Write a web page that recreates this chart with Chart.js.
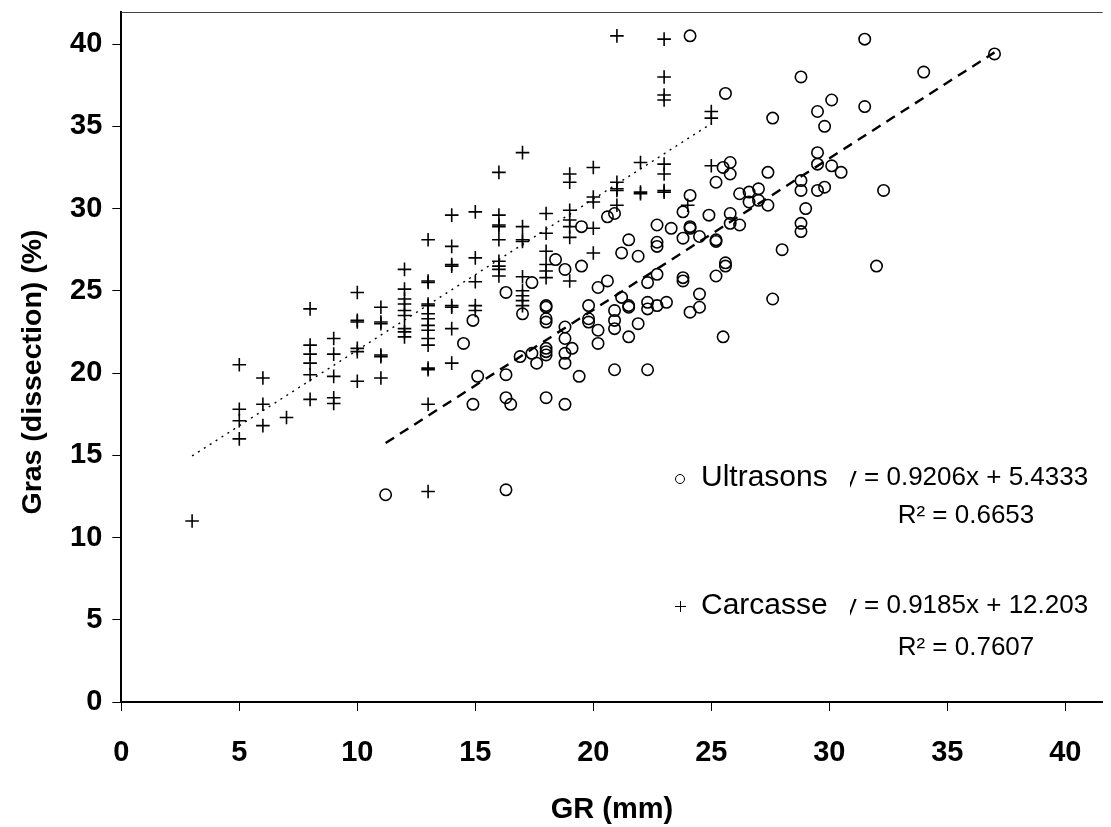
<!DOCTYPE html>
<html>
<head>
<meta charset="utf-8">
<script src="https://cdn.jsdelivr.net/npm/chart.js@4.4.0/dist/chart.umd.min.js"></script>
<style>
  html, body { margin: 0; padding: 0; background: #fff; overflow: hidden; }
  #wrap { width: 1111px; height: 827px; }
</style>
</head>
<body>
<div id="wrap"><canvas id="graph" width="1111" height="827"></canvas></div>
<script>
// Ultrasons : GR (mm) / gras de dissection (%)
const ultrasonsGR = [
  11.2, 16.3, 14.9, 16.3, 16.5, 18.0, 18.8, 15.1, 16.3, 19.4,
  17.6, 16.9, 17.4, 18.0, 18.0, 18.0, 18.8, 18.8, 19.1, 18.8,
  18.8, 14.5, 14.9, 17.0, 16.3, 17.4, 18.0, 18.0, 18.0, 18.0,
  18.4, 18.8, 19.5, 19.8, 19.8, 19.8, 20.2, 20.6, 20.2, 20.2,
  20.9, 20.9, 20.9, 20.9, 21.2, 21.5, 21.5, 21.9, 21.5, 22.3,
  22.7, 22.3, 22.3, 22.7, 23.1, 22.3, 21.2, 21.9, 21.5, 22.7,
  22.7, 19.5, 20.6, 20.9, 22.7, 23.3, 23.8, 24.1, 24.1, 23.8,
  24.5, 25.2, 25.2, 24.9, 24.1, 25.2, 25.5, 25.8, 25.8, 25.8,
  25.8, 26.2, 26.2, 26.6, 27.0, 27.0, 26.6, 27.4, 27.4, 28.8,
  28.8, 29.5, 29.8, 29.0, 28.8, 28.8, 28.0, 29.5, 29.5, 30.1,
  30.5, 32.3, 27.6, 29.8, 29.5, 30.1, 31.5, 25.6, 28.8, 34.0,
  37.0, 24.1, 31.5, 32.0, 25.6, 25.6, 25.2, 23.8, 23.8, 24.5,
  27.6, 24.5, 24.1, 25.5
];
const ultrasonsGras = [
  12.6, 12.9, 18.1, 18.5, 18.1, 18.5, 18.1, 19.8, 19.9, 19.8,
  20.6, 21.0, 21.2, 21.1, 21.3, 21.5, 20.6, 21.2, 21.5, 22.1,
  22.8, 21.8, 23.2, 23.6, 24.9, 25.5, 23.1, 23.3, 24.0, 24.1,
  26.9, 26.3, 26.5, 24.1, 23.3, 23.1, 25.2, 25.6, 22.6, 21.8,
  23.8, 23.2, 22.7, 20.2, 24.6, 24.1, 24.0, 23.0, 22.2, 25.5,
  26.0, 24.3, 23.9, 24.1, 24.3, 20.2, 27.3, 27.1, 28.1, 27.95,
  27.7, 28.9, 29.5, 29.7, 29.0, 28.8, 29.8, 28.9, 28.8, 28.2,
  28.3, 28.1, 28.0, 29.6, 30.8, 31.6, 32.5, 32.8, 32.1, 29.7,
  29.1, 29.0, 30.9, 31.0, 31.2, 30.5, 30.4, 30.2, 32.2, 31.7,
  31.1, 31.1, 31.3, 30.0, 29.1, 28.6, 27.5, 33.4, 32.7, 32.6,
  32.2, 31.1, 35.5, 35.0, 35.9, 36.6, 36.2, 37.0, 38.0, 38.3,
  39.4, 40.5, 40.3, 26.5, 26.7, 26.5, 25.9, 25.8, 25.6, 24.8,
  24.5, 24.0, 23.7, 22.2
];

// Carcasse : GR (mm) / gras de dissection (%)
const carcasseGR = [
  3,
  5, 5, 5, 5,
  6, 6, 6,
  7,
  8, 8, 8, 8, 8, 8,
  9, 9, 9, 9, 9,
  10, 10, 10, 10, 10, 10,
  11, 11, 11, 11, 11, 11,
  12, 12, 12, 12, 12, 12, 12, 12, 12,
  13, 13, 13, 13, 13, 13, 13, 13, 13, 13, 13, 13, 13, 13, 13,
  14, 14, 14, 14, 14, 14, 14, 14,
  15, 15, 15, 15, 15,
  16, 16, 16, 16, 16, 16, 16, 16, 16,
  17, 17, 17, 17, 17, 17, 17, 17, 17,
  18, 18, 18, 18, 18, 18,
  19, 19, 19, 19, 19, 19, 19,
  20, 20, 20, 20, 20,
  21, 21, 21, 21, 21,
  22, 22, 22,
  23, 23, 23, 23, 23, 23, 23, 23,
  24,
  25, 25, 25
];
const carcasseGras = [
  11.0,
  20.5, 17.8, 17.1, 16.0,
  19.7, 18.1, 16.8,
  17.3,
  23.9, 21.7, 21.15, 20.6, 19.9, 18.4,
  22.1, 21.15, 19.8, 18.5, 18.15,
  24.9, 23.2, 23.1, 21.5, 21.3, 19.5,
  24.0, 23.1, 23.0, 21.1, 21.0, 19.7,
  26.3, 25.1, 24.5, 24.2, 23.8, 23.5, 22.7, 22.5, 22.2,
  28.1, 25.6, 25.5, 24.2, 24.1, 23.6, 23.3, 22.9, 22.6, 22.1, 21.7, 20.3, 20.2, 18.1, 12.8,
  29.6, 27.7, 26.6, 26.5, 24.1, 24.0, 22.7, 20.6,
  29.8, 27.0, 25.55, 24.1, 23.8,
  32.2, 29.6, 29.0, 28.9, 28.1, 26.8, 26.5, 26.3, 25.9,
  33.4, 28.9, 28.1, 28.0, 25.85, 25.0, 24.7, 24.4, 24.1,
  29.7, 28.5, 27.4, 26.6, 26.2, 25.8,
  32.1, 31.6, 29.9, 29.3, 28.9, 28.25, 25.6,
  32.5, 30.7, 30.4, 28.8, 27.3,
  40.5, 31.6, 31.2, 31.1, 30.2,
  32.8, 31.0, 30.9,
  40.3, 38.0, 36.9, 36.6, 32.7, 32.1, 31.1, 31.0,
  30.2,
  35.9, 35.5, 32.6
];

// droites de regression (pente, ordonnee a l'origine, R2)
const ultrasonsFit = [0.9206, 5.4333, 0.6653];
const carcasseFit = [0.9185, 12.203, 0.7607];

const xTicks = [0, 5, 10, 15, 20, 25, 30, 35, 40];
const yTicks = [0, 5, 10, 15, 20, 25, 30, 35, 40];

function toPoints(xs, ys) {
  return xs.map((x, i) => ({ x: x, y: ys[i] }));
}

function fitLine(xs, fit) {
  const lo = Math.min(...xs);
  const hi = Math.max(...xs);
  return [{ x: lo, y: fit[0] * lo + fit[1] }, { x: hi, y: fit[0] * hi + fit[1] }];
}

const FONT = '"Liberation Sans", Arial, sans-serif';

// cadre du haut, titre vertical, equations
const frameAndLabels = {
  id: 'frameAndLabels',
  afterDraw(chart) {
    const ctx = chart.ctx;
    const a = chart.chartArea;
    ctx.save();
    ctx.strokeStyle = '#444';
    ctx.lineWidth = 1;
    ctx.beginPath();
    ctx.moveTo(a.left, a.top + 0.5);
    ctx.lineTo(a.right, a.top + 0.5);
    ctx.stroke();

    // titre de l'axe vertical, un peu sous le milieu du cadre
    ctx.save();
    ctx.translate(33, 372);
    ctx.rotate(-Math.PI / 2);
    ctx.fillStyle = '#000';
    ctx.font = 'bold 28.5px ' + FONT;
    ctx.textAlign = 'center';
    ctx.textBaseline = 'middle';
    ctx.fillText('Gras (dissection) (%)', 0, 0);
    ctx.restore();

    ctx.fillStyle = '#000';
    ctx.font = '26px ' + FONT;
    ctx.textBaseline = 'middle';
    ctx.textAlign = 'center';
    const fmt = (f) => 'y = ' + f[0] + 'x + ' + f[1];
    ctx.fillText(fmt(ultrasonsFit), 966, 478);
    ctx.fillText('R\u00b2 = ' + ultrasonsFit[2], 966, 516);
    ctx.fillText(fmt(carcasseFit), 966, 606);
    ctx.fillText('R\u00b2 = ' + carcasseFit[2], 966, 648);

    // etiquettes de serie (leur fond masque le debut du "y")
    ctx.fillStyle = '#fff';
    ctx.fillRect(672, 458, 178, 40);
    ctx.fillRect(672, 586, 178, 40);
    ctx.fillStyle = '#000';
    ctx.font = '30px ' + FONT;
    ctx.textAlign = 'left';
    ctx.fillText('Ultrasons', 701, 478);
    ctx.fillText('Carcasse', 701, 606);
    ctx.strokeStyle = '#000';
    ctx.fillStyle = 'rgba(0,0,0,0)';
    Chart.helpers.drawPoint(ctx, { pointStyle: 'circle', radius: 4.5, borderWidth: 1.5 }, 680, 479);
    Chart.helpers.drawPoint(ctx, { pointStyle: 'cross', radius: 5.5, borderWidth: 1.5 }, 680.5, 606.5);
    ctx.restore();
  }
};

const ctx = document.getElementById('graph').getContext('2d');

new Chart(ctx, {
  type: 'scatter',
  data: {
    datasets: [
      {
        label: 'Ultrasons',
        data: toPoints(ultrasonsGR, ultrasonsGras),
        pointStyle: 'circle',
        pointRadius: 5.7,
        borderColor: '#000',
        borderWidth: 1.6,
        backgroundColor: 'rgba(0,0,0,0)'
      },
      {
        label: 'Carcasse',
        data: toPoints(carcasseGR, carcasseGras),
        pointStyle: 'cross',
        pointRadius: 6.8,
        borderColor: '#000',
        borderWidth: 1.6,
        backgroundColor: 'rgba(0,0,0,0)'
      },
      {
        label: 'Lin. Ultrasons',
        data: fitLine(ultrasonsGR, ultrasonsFit),
        showLine: true,
        pointRadius: 0,
        borderColor: '#000',
        borderWidth: 2.4,
        borderDash: [10, 7]
      },
      {
        label: 'Lin. Carcasse',
        data: fitLine(carcasseGR, carcasseFit),
        showLine: true,
        pointRadius: 0,
        borderColor: '#000',
        borderWidth: 1.4,
        borderDash: [2, 5]
      }
    ]
  },
  options: {
    responsive: false,
    animation: false,
    layout: { padding: { top: 12, left: 0, right: 0, bottom: 0 } },
    plugins: {
      legend: { display: false },
      tooltip: { enabled: false }
    },
    scales: {
      x: {
        type: 'linear',
        min: 0,
        max: 41.58,
        afterFit(scale) {
          scale.height = 125;
          scale.paddingLeft = 0;
          scale.paddingRight = 0;
        },
        afterBuildTicks(scale) {
          scale.ticks = xTicks.map(v => ({ value: v }));
        },
        ticks: {
          color: '#000',
          padding: 25,
          maxRotation: 0,
          font: { family: FONT, size: 29, weight: 'bold' }
        },
        grid: {
          drawOnChartArea: false,
          drawTicks: true,
          tickLength: 9,
          color: '#000',
          lineWidth: 1
        },
        border: { display: true, color: '#000', width: 2 },
        title: {
          display: true,
          text: 'GR (mm)',
          color: '#000',
          padding: { top: 0, bottom: 0 },
          font: { family: FONT, size: 29, weight: 'bold' }
        }
      },
      y: {
        type: 'linear',
        min: 0,
        max: 41.95,
        afterFit(scale) {
          scale.width = 121.3;
          scale.paddingTop = 0;
          scale.paddingBottom = 0;
        },
        afterBuildTicks(scale) {
          scale.ticks = yTicks.map(v => ({ value: v }));
        },
        ticks: {
          color: '#000',
          padding: 10,
          font: { family: FONT, size: 29, weight: 'bold' }
        },
        grid: {
          drawOnChartArea: false,
          drawTicks: true,
          tickLength: 9,
          color: '#000',
          lineWidth: 1
        },
        border: { display: true, color: '#000', width: 2 }
      }
    }
  },
  plugins: [frameAndLabels]
});
</script>
</body>
</html>
